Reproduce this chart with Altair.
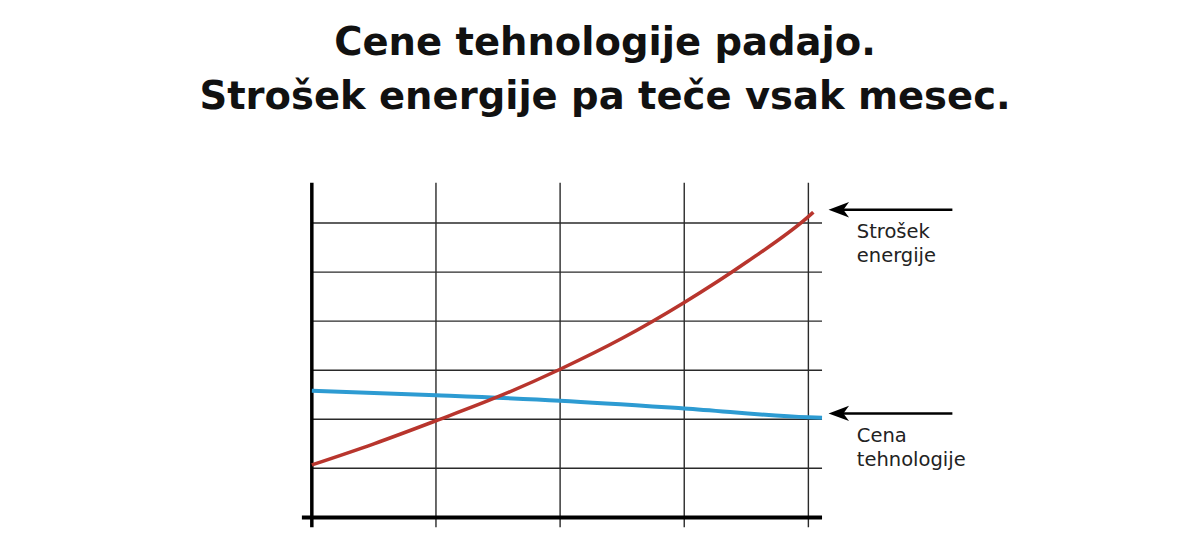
import altair as alt
import pandas as pd

# ---- data ----
title_lines = ["Cene tehnologije padajo.", "Strošek energije pa teče vsak mesec."]

energy_x = [0, 0.5, 1, 1.5, 2, 2.5, 3, 3.5, 4, 4.04]
energy_y = [1.07, 1.5, 1.97, 2.46, 3.02, 3.65, 4.38, 5.2, 6.13, 6.22]

tech_x = [0, 1, 2, 3, 4, 4.11]
tech_y = [2.58, 2.49, 2.38, 2.22, 2.04, 2.03]

h_grid = [1, 2, 3, 4, 5, 6]
v_grid = [1, 2, 3, 4]

label_names = ["Strošek energije", "Cena tehnologije"]
label_lines = [["Strošek", "energije"], ["Cena", "tehnologije"]]
arrow_y = [6.27, 2.12]

# ---- scales ----
xs = alt.Scale(domain=[-0.2, 5.6], nice=False, zero=False)
ys = alt.Scale(domain=[-0.4, 7.0], nice=False, zero=False)
X0, X1 = 0, 4.11
Ytop, Ybot = 6.82, -0.2

hdf = pd.DataFrame({"y": h_grid, "x": X0, "x2": X1})
vdf = pd.DataFrame({"x": v_grid, "y": Ybot, "y2": Ytop})

hgrid = alt.Chart(hdf).mark_rule(color="#2a2a2a", strokeWidth=1.4).encode(
    x=alt.X("x:Q", scale=xs, axis=None), x2="x2:Q",
    y=alt.Y("y:Q", scale=ys, axis=None))
vgrid = alt.Chart(vdf).mark_rule(color="#2a2a2a", strokeWidth=1.4).encode(
    x=alt.X("x:Q", scale=xs, axis=None),
    y=alt.Y("y:Q", scale=ys, axis=None), y2="y2:Q")

yaxis = alt.Chart(pd.DataFrame({"x": [0], "y": [Ybot], "y2": [Ytop]})).mark_rule(
    color="black", strokeWidth=3.5).encode(
    x=alt.X("x:Q", scale=xs, axis=None),
    y=alt.Y("y:Q", scale=ys, axis=None), y2="y2:Q")
xaxis = alt.Chart(pd.DataFrame({"y": [0], "x": [-0.08], "x2": [X1]})).mark_rule(
    color="black", strokeWidth=4).encode(
    x=alt.X("x:Q", scale=xs, axis=None), x2="x2:Q",
    y=alt.Y("y:Q", scale=ys, axis=None))

tech = alt.Chart(pd.DataFrame({"x": tech_x, "y": tech_y})).mark_line(
    color="#2d9bd2", strokeWidth=4, interpolate="monotone").encode(
    x=alt.X("x:Q", scale=xs, axis=None), y=alt.Y("y:Q", scale=ys, axis=None))
energy = alt.Chart(pd.DataFrame({"x": energy_x, "y": energy_y})).mark_line(
    color="#b8352d", strokeWidth=3.5, interpolate="monotone").encode(
    x=alt.X("x:Q", scale=xs, axis=None), y=alt.Y("y:Q", scale=ys, axis=None))

adf = pd.DataFrame({"name": label_names, "y": arrow_y, "x": 4.22, "x2": 5.16, "tip": 4.245})
arrows = alt.Chart(adf).mark_rule(color="black", strokeWidth=2.5).encode(
    x=alt.X("x:Q", scale=xs, axis=None), x2="x2:Q",
    y=alt.Y("y:Q", scale=ys, axis=None))
heads = alt.Chart(adf).mark_point(
    shape="M -1 0 L 1 -0.75 L 0.45 0 L 1 0.75 Z", filled=True, color="black",
    opacity=1, size=420, strokeWidth=0).encode(
    x=alt.X("tip:Q", scale=xs, axis=None), y=alt.Y("y:Q", scale=ys, axis=None))

rows = []
for i, lines in enumerate(label_lines):
    for j, t in enumerate(lines):
        rows.append({"t": t, "x": 4.39, "y": arrow_y[i] - 0.58 - j * 0.49})
ldf = pd.DataFrame(rows)
labels = alt.Chart(ldf).mark_text(
    align="left", baseline="alphabetic", fontSize=19.5, font="DejaVu Sans",
    fontWeight="normal", color="#222222").encode(
    x=alt.X("x:Q", scale=xs, axis=None), y=alt.Y("y:Q", scale=ys, axis=None),
    text="t:N")

chart = alt.layer(hgrid, vgrid, xaxis, yaxis, tech, energy, arrows, heads, labels).properties(
    width=720, height=363,
    padding={"left": 279, "top": 166, "right": 180, "bottom": 0},
    autosize=alt.AutoSizeParams(type="none"),
    title=alt.TitleParams(text=title_lines, anchor="middle", frame="group",
                          dx=-42, fontSize=38.5, lineHeight=54, font="DejaVu Sans",
                          fontWeight="bold", color="#111111", offset=57, limit=1000),
).configure_view(stroke=None)

chart.save("out.html", embed_options={"renderer": "svg", "actions": False})
